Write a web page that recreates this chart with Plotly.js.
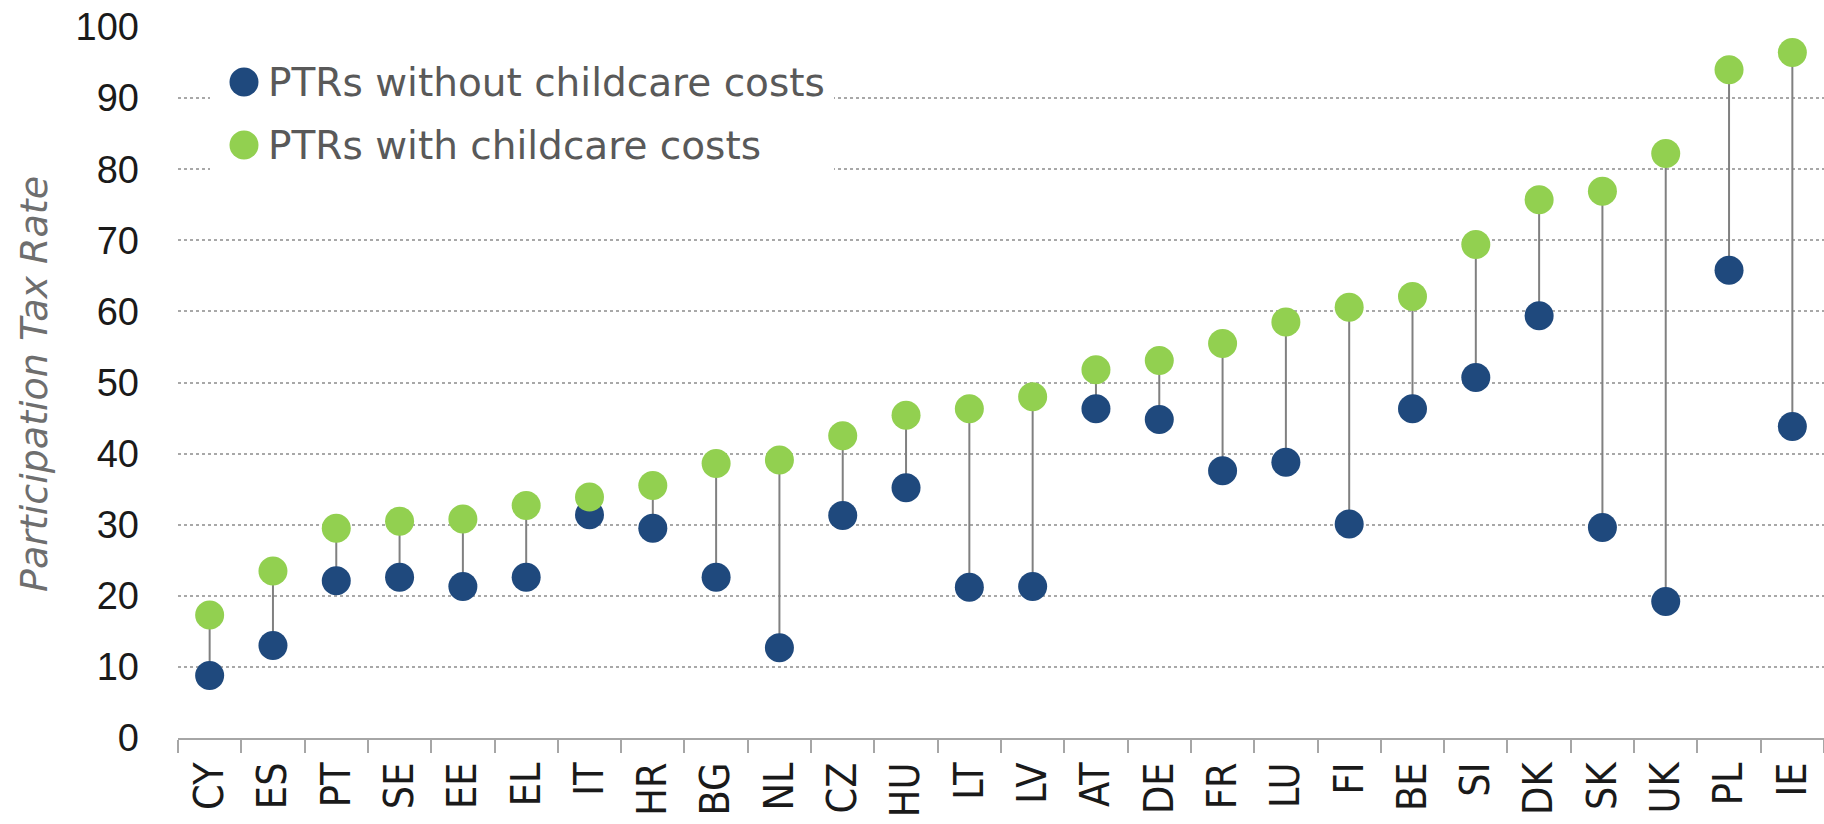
<!DOCTYPE html>
<html>
<head>
  <title>Participation Tax Rates</title>
<script src="https://cdn.jsdelivr.net/npm/plotly.js-dist@3.0.1/plotly.min.js"></script>
</head>
<body style="margin:0">
  <div id="graph"></div>
  <script>
    // Country codes, sorted by PTR with childcare costs
    const countries = ['CY', 'ES', 'PT', 'SE', 'EE', 'EL', 'IT', 'HR', 'BG', 'NL', 'CZ', 'HU', 'LT',
                       'LV', 'AT', 'DE', 'FR', 'LU', 'FI', 'BE', 'SI', 'DK', 'SK', 'UK', 'PL', 'IE'];

    // Values
    const ptrWithout = [8.8, 13.0, 22.1, 22.6, 21.3, 22.6, 31.4, 29.5, 22.6, 12.7, 31.3, 35.2, 21.2,
                        21.3, 46.3, 44.8, 37.6, 38.8, 30.1, 46.3, 50.7, 59.4, 29.6, 19.2, 65.8, 43.8];
    const ptrWith = [17.3, 23.5, 29.5, 30.5, 30.8, 32.7, 33.9, 35.5, 38.6, 39.1, 42.5, 45.4, 46.3,
                     48.0, 51.8, 53.1, 55.5, 58.5, 60.6, 62.1, 69.4, 75.7, 76.9, 82.2, 94.0, 96.4];

    const seriesNames = ['PTRs without childcare costs', 'PTRs with childcare costs'];
    const seriesColors = ['#1f497d', '#92d050'];
    const yTicks = [0, 10, 20, 30, 40, 50, 60, 70, 80, 90, 100];

    const W = 1824, H = 824;
    const margin = { l: 178, r: 0, t: 27, b: 86 };
    const plotW = W - margin.l - margin.r;
    const plotH = H - margin.t - margin.b;
    // pixel -> paper helpers for the hand-made legend
    const px = x => (x - margin.l) / plotW;
    const py = y => (H - margin.b - y) / plotH;

    // vertical connector from one series to the other
    const segX = [], segY = [];
    countries.forEach((c, i) => {
      segX.push(c, c, null);
      segY.push(ptrWithout[i], ptrWith[i], null);
    });

    const data = [
      { x: segX, y: segY, mode: 'lines', line: { color: '#808080', width: 2 },
        hoverinfo: 'skip', showlegend: false },
      { x: countries, y: ptrWithout, mode: 'markers', name: seriesNames[0],
        marker: { color: seriesColors[0], size: 29 }, cliponaxis: false },
      { x: countries, y: ptrWith, mode: 'markers', name: seriesNames[1],
        marker: { color: seriesColors[1], size: 29 }, cliponaxis: false }
    ];

    // legend drawn by hand so the dots keep the chart's size
    const shapes = [
      { type: 'rect', xref: 'paper', yref: 'paper', x0: px(210), x1: px(834), y0: py(185), y1: py(40),
        fillcolor: 'white', line: { width: 0 }, layer: 'above' }
    ];
    const annotations = [
      { text: 'Participation Tax Rate', xref: 'paper', yref: 'paper', x: px(34), y: py(384),
        textangle: -90, showarrow: false, xanchor: 'center', yanchor: 'middle',
        font: { family: 'DejaVu Sans', size: 38, style: 'italic', color: '#6e6e6e' } }
    ];
    seriesNames.forEach((name, i) => {
      const cy = 82 + i * 63;
      shapes.push({ type: 'circle', xref: 'paper', yref: 'paper', xsizemode: 'pixel', ysizemode: 'pixel',
        xanchor: px(244), yanchor: py(cy), x0: -14.5, x1: 14.5, y0: -14.5, y1: 14.5,
        fillcolor: seriesColors[i], line: { width: 0 }, layer: 'above' });
      annotations.push({ text: name, xref: 'paper', yref: 'paper', x: px(266), y: py(cy),
        xanchor: 'left', yanchor: 'middle', showarrow: false,
        font: { family: 'DejaVu Sans', size: 39, color: '#595959' } });
    });

    const layout = {
      width: W, height: H, margin: margin,
      paper_bgcolor: 'white', plot_bgcolor: 'white',
      showlegend: false,
      xaxis: {
        type: 'category', range: [-0.5, countries.length - 0.5],
        showgrid: false, showline: true, linecolor: '#a6a6a6', linewidth: 2,
        ticks: 'outside', tickson: 'boundaries', ticklen: 13, tickcolor: '#a6a6a6', tickwidth: 2,
        tickangle: -90, ticklabelstandoff: 6,
        tickfont: { family: 'Liberation Sans Narrow, DejaVu Sans Condensed, Liberation Sans', size: 41, color: '#1a1a1a' }
      },
      yaxis: {
        range: [0, 100], tickvals: yTicks, ticks: '', zeroline: false,
        showgrid: true, gridcolor: '#a8a8a8', gridwidth: 1.5, griddash: 'dot',
        ticklabelstandoff: 38,
        tickfont: { family: 'Liberation Sans', size: 38, color: '#1a1a1a' }
      },
      shapes: shapes,
      annotations: annotations
    };

    Plotly.newPlot('graph', data, layout, { displayModeBar: false });
  </script>
</body>
</html>
